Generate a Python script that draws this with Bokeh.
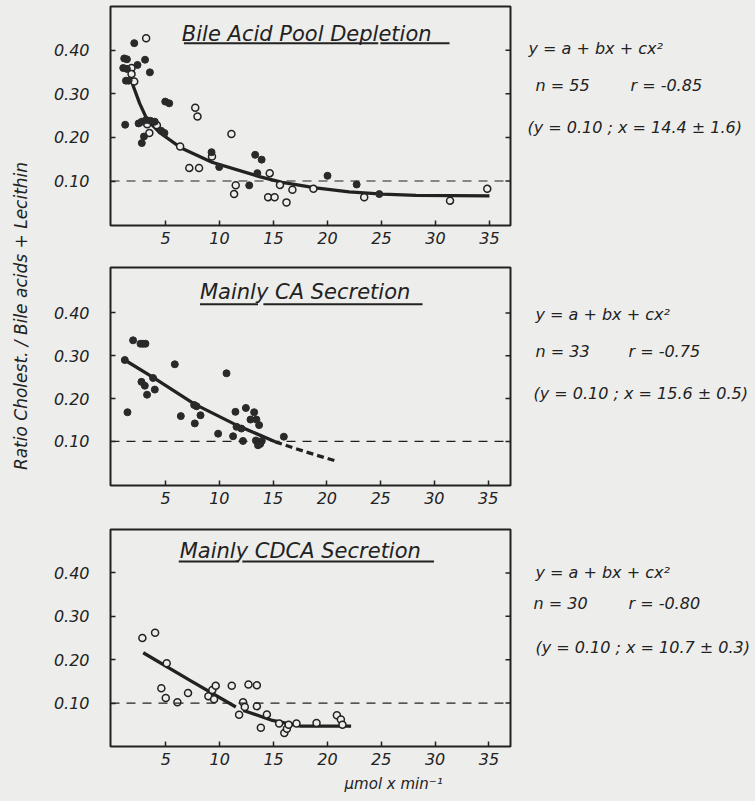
import math
from bokeh.plotting import figure
from bokeh.layouts import row, column
from bokeh.models import Range1d, Span, Label, FixedTicker, NumeralTickFormatter
from bokeh.embed import file_html
from bokeh.resources import INLINE

# ---------------- data ----------------
x_ticks = [5, 10, 15, 20, 25, 30, 35]
y_ticks = [0.10, 0.20, 0.30, 0.40]

# Panel 1: Bile Acid Pool Depletion
p1_filled_x = [2.1, 3.1, 3.55, 1.17, 1.42, 1.08, 1.42, 1.33, 1.58, 2.4, 4.97, 5.34, 1.26, 2.5, 2.8,
               3.2, 3.6, 4.0, 4.6, 4.9, 2.8, 3.0, 9.26, 9.97, 13.3, 13.9, 13.5, 12.75, 20.0, 22.7, 24.8]
p1_filled_y = [0.416, 0.378, 0.349, 0.381, 0.379, 0.359, 0.357, 0.33, 0.33, 0.366, 0.282, 0.278, 0.229,
               0.232, 0.236, 0.24, 0.238, 0.236, 0.215, 0.21, 0.187, 0.202, 0.166, 0.132, 0.16, 0.149,
               0.118, 0.09, 0.112, 0.092, 0.07]
p1_open_x = [3.2, 1.85, 1.85, 2.1, 3.3, 4.2, 3.5, 7.75, 7.96, 6.35, 7.2, 8.1, 9.3, 11.1, 11.5, 11.35,
             14.65, 14.5, 15.1, 15.6, 16.2, 16.75, 18.7, 23.4, 31.35, 34.8]
p1_open_y = [0.427, 0.359, 0.345, 0.328, 0.23, 0.228, 0.21, 0.268, 0.248, 0.179, 0.13, 0.13, 0.156, 0.208,
             0.09, 0.07, 0.118, 0.063, 0.063, 0.091, 0.051, 0.08, 0.082, 0.063, 0.055, 0.082]
p1_fit_x = [1.85, 2.6, 3.3, 4.5, 6.5, 9.3, 13.7, 15.8, 18.9, 22.0, 25.1, 28.2, 35.0]
p1_fit_y = [0.328, 0.278, 0.24, 0.21, 0.175, 0.143, 0.11, 0.097, 0.084, 0.075, 0.070, 0.067, 0.066]

# Panel 2: Mainly CA Secretion
p2_filled_x = [1.98, 2.67, 2.9, 3.13, 1.21, 5.86, 10.67, 2.76, 3.07, 3.84, 4.0, 3.28, 1.46, 6.42, 7.66,
               7.88, 7.72, 8.25, 9.89, 11.28, 11.5, 11.6, 12.05, 12.2, 12.47, 12.9, 13.24, 13.45, 13.7,
               13.4, 13.6, 13.8, 13.95, 16.0]
p2_filled_y = [0.336, 0.328, 0.328, 0.328, 0.29, 0.28, 0.259, 0.239, 0.23, 0.248, 0.221, 0.209, 0.168,
               0.159, 0.185, 0.182, 0.142, 0.161, 0.118, 0.112, 0.169, 0.134, 0.13, 0.101, 0.178, 0.151,
               0.168, 0.151, 0.138, 0.102, 0.091, 0.094, 0.101, 0.111]
p2_fit_x = [1.2, 3.8, 7.7, 11.6, 15.2]
p2_fit_y = [0.29, 0.25, 0.187, 0.138, 0.099]
p2_ext_x = [15.2, 18.1, 21.0]
p2_ext_y = [0.099, 0.075, 0.053]

# Panel 3: Mainly CDCA Secretion
p3_open_x = [2.82, 4.0, 5.08, 4.58, 4.99, 6.07, 7.06, 8.95, 9.32, 9.63, 9.48, 11.12, 12.67, 13.45, 12.17,
             12.33, 11.8, 13.45, 14.38, 13.82, 15.52, 16.0, 16.24, 16.4, 17.13, 18.99, 20.88, 21.25, 21.4]
p3_open_y = [0.25, 0.262, 0.192, 0.134, 0.112, 0.102, 0.123, 0.116, 0.13, 0.14, 0.109, 0.14, 0.143, 0.141,
             0.102, 0.091, 0.073, 0.093, 0.074, 0.043, 0.053, 0.031, 0.041, 0.05, 0.053, 0.054, 0.072,
             0.062, 0.05]
p3_fit_a_x = [2.9, 7.2, 11.5]
p3_fit_a_y = [0.216, 0.153, 0.091]
p3_fit_b_x = [12.2, 14.9, 17.5, 22.2]
p3_fit_b_y = [0.083, 0.060, 0.047, 0.047]

titles = ["Bile  Acid  Pool  Depletion", "Mainly  CA  Secretion", "Mainly  CDCA  Secretion"]
stats = [
    ("y = a + bx + cx\u00b2", "n = 55", "r = -0.85", "(y = 0.10 ;  x = 14.4 \u00b1 1.6)"),
    ("y = a + bx + cx\u00b2", "n = 33", "r = -0.75", "(y = 0.10 ;  x = 15.6 \u00b1 0.5)"),
    ("y = a + bx + cx\u00b2", "n = 30", "r = -0.80", "(y = 0.10 ;  x = 10.7 \u00b1 0.3)"),
]
y_label = "Ratio   Cholest. / Bile  acids  +  Lecithin"
x_label = "\u00b5mol x min\u207b\u00b9"

# ---------------- style ----------------
BG = "#ededeb"
INK = "#222222"
DOT = "#2a2a2a"
FONT = "DejaVu Sans"
PAGE_H = 800
LEFT_W = 34
B_LEFT = 76
FRAME_W = 400
B_RIGHT = 10
COL_W = B_LEFT + FRAME_W + B_RIGHT
TXT_W = 755 - LEFT_W - COL_W


def style_text(lbl, size):
    lbl.text_font = FONT
    lbl.text_font_style = "italic"
    lbl.text_font_size = size
    lbl.text_color = INK
    return lbl


def make_panel(title, t_x, t_y, ul, b_top, b_bottom, frame_h, xr, yr):
    p = figure(frame_width=FRAME_W, frame_height=frame_h,
               x_range=Range1d(*xr), y_range=Range1d(*yr),
               output_backend="svg", toolbar_location=None,
               min_border_left=B_LEFT, min_border_right=B_RIGHT,
               min_border_top=b_top, min_border_bottom=b_bottom,
               background_fill_color=BG, border_fill_color=BG,
               outline_line_color=INK, outline_line_width=2)
    p.grid.visible = False
    for ax in (p.xaxis[0], p.yaxis[0]):
        ax.axis_line_color = None
        ax.major_tick_in = 5
        ax.major_tick_out = 0
        ax.minor_tick_line_color = None
        ax.major_tick_line_color = INK
        ax.major_tick_line_width = 1.5
        ax.major_label_text_font = FONT
        ax.major_label_text_font_style = "italic"
        ax.major_label_text_font_size = "16px"
        ax.major_label_text_color = INK
    p.xaxis.ticker = FixedTicker(ticks=x_ticks)
    p.xaxis.major_label_standoff = 6
    p.yaxis.ticker = FixedTicker(ticks=y_ticks)
    p.yaxis.formatter = NumeralTickFormatter(format="0.00")
    p.yaxis.major_label_standoff = 21
    # inward ticks on the right frame edge (dash markers clipped by the frame)
    p.scatter([xr[1]] * len(y_ticks), y_ticks, marker="dash", size=10,
              line_color=INK, line_width=1.5)
    p.add_layout(Span(location=0.10, dimension="width", line_color=INK,
                      line_width=1.1, line_dash="9 7"))
    p.add_layout(style_text(Label(x=t_x, y=t_y, text=title, text_align="center",
                                  text_baseline="middle"), "21px"))
    p.segment(x0=ul[0], y0=[ul[2]] * len(ul[0]), x1=ul[1], y1=[ul[2]] * len(ul[0]),
              line_color=INK, line_width=2)
    return p


p1 = make_panel(titles[0], 19.0, 0.438, ([6.7, 24.9], [24.7, 31.3], 0.416),
                6, 40, 219, (-0.1, 36.95), (-0.002, 0.5))
p1.line(p1_fit_x, p1_fit_y, line_color=INK, line_width=3.3)
p1.scatter(p1_open_x, p1_open_y, size=7, marker="circle", fill_color=BG, line_color=INK, line_width=1.5)
p1.scatter(p1_filled_x, p1_filled_y, size=7, marker="circle", fill_color=DOT, line_color=DOT)

p2 = make_panel(titles[1], 18.6, 0.448, ([8.2, 14.1], [13.6, 28.9], 0.42),
                2, 42, 218, (-0.12, 37.08), (-0.003, 0.506))
p2.line(p2_fit_x, p2_fit_y, line_color=INK, line_width=3.3)
p2.line(p2_ext_x, p2_ext_y, line_color=INK, line_width=3.3, line_dash="7 4")
p2.scatter(p2_filled_x, p2_filled_y, size=7, marker="circle", fill_color=DOT, line_color=DOT)

p3 = make_panel(titles[2], 18.1, 0.451, ([6.2, 12.1], [11.8, 29.9], 0.426),
                2, 26, 217, (-0.14, 37.0), (0.0, 0.5))
p3.line(p3_fit_a_x, p3_fit_a_y, line_color=INK, line_width=3.3)
p3.line(p3_fit_b_x, p3_fit_b_y, line_color=INK, line_width=3.3)
p3.scatter(p3_open_x, p3_open_y, size=7, marker="circle", fill_color=BG, line_color=INK, line_width=1.5)

# x-axis caption strip under the last panel
used_h = (6 + 219 + 40) + (2 + 218 + 42) + (2 + 217 + 26)
XF_H = PAGE_H - used_h
xfig = figure(width=COL_W, height=XF_H, x_range=Range1d(0, COL_W), y_range=Range1d(0, XF_H),
              output_backend="svg", toolbar_location=None, min_border=0,
              x_axis_location=None, y_axis_location=None,
              background_fill_color=BG, border_fill_color=BG, outline_line_color=None)
xfig.grid.visible = False
xfig.add_layout(style_text(Label(x=378 - LEFT_W, y=XF_H - (783 - used_h), text=x_label,
                                 text_align="center", text_baseline="middle"), "15px"))

# ---------------- left label column ----------------
lab = figure(width=LEFT_W, height=PAGE_H, x_range=Range1d(0, LEFT_W), y_range=Range1d(0, PAGE_H),
             output_backend="svg", toolbar_location=None, min_border=0,
             x_axis_location=None, y_axis_location=None,
             background_fill_color=BG, border_fill_color=BG, outline_line_color=None)
lab.grid.visible = False
lab.add_layout(style_text(Label(x=20, y=PAGE_H - 302, text=y_label, angle=math.pi / 2,
                                text_align="center", text_baseline="middle"), "17px"))

# ---------------- right statistics column ----------------
txt = figure(width=TXT_W, height=PAGE_H, x_range=Range1d(0, TXT_W), y_range=Range1d(0, PAGE_H),
             output_backend="svg", toolbar_location=None, min_border=0,
             x_axis_location=None, y_axis_location=None,
             background_fill_color=BG, border_fill_color=BG, outline_line_color=None)
txt.grid.visible = False
line_pos = [
    [(528, 48), (535, 85), (630, 85), (527, 127)],
    [(535, 314), (535, 351), (628, 351), (533, 393)],
    [(535, 572), (533, 603), (628, 603), (535, 647)],
]
for s, pos in zip(stats, line_pos):
    for t, (px, py) in zip(s, pos):
        txt.add_layout(style_text(Label(x=px - (LEFT_W + COL_W), y=PAGE_H - py, text=t,
                                        text_align="left", text_baseline="middle"), "16px"))

layout = row(lab, column(p1, p2, p3, xfig), txt)

html = file_html(layout, INLINE)
html = html.replace("</head>", "<style>body{background-color:#ededeb;}</style></head>", 1)
open("out.html", "w").write(html)
